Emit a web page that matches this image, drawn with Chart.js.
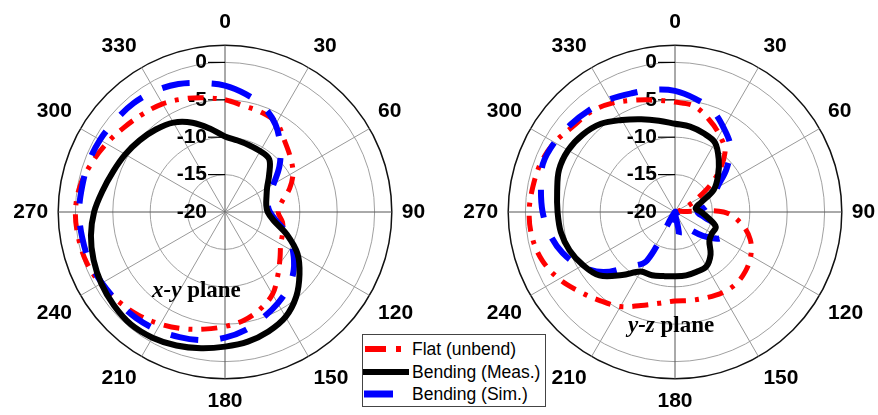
<!DOCTYPE html>
<html>
<head>
<meta charset="utf-8">
<script src="https://cdn.jsdelivr.net/npm/chart.js@4.4.0/dist/chart.umd.min.js"></script>
<style>
body { margin:0; width:878px; height:415px; overflow:hidden; position:relative; background:#fff; font-family:"Liberation Sans", Arial, sans-serif; }
canvas { position:absolute; top:0; }
.plane { position:absolute; font-family:"Liberation Serif","Times New Roman",serif; font-weight:bold; font-size:23px; white-space:nowrap; }
#legend { position:absolute; left:362px; top:334px; width:182px; height:71px; border:1px solid #444; background:#fff; }
.row { position:absolute; left:0; height:22px; font-size:17.5px; line-height:22px; white-space:nowrap; display:flex; align-items:center; }
.row svg { margin-right:3px; }
</style>
</head>
<body>
<canvas id="xyChart" width="440" height="415" style="left:0"></canvas>
<canvas id="yzChart" width="440" height="415" style="left:450px"></canvas>
<div class="plane" style="left:152px;top:277px"><i>x-y</i> plane</div>
<div class="plane" style="left:628px;top:312px"><i>y-z</i> plane</div>
<div id="legend"></div>
<script>
// angle (deg) for each sample, 0 at top, clockwise
var angles = [0, 10, 20, 30, 40, 50, 60, 70, 80, 90, 100, 110, 120, 130, 140, 150, 160, 170,
              180, 190, 200, 210, 220, 230, 240, 250, 260, 270, 280, 290, 300, 310, 320, 330, 340, 350];
var rTicks = [-20, -15, -10, -5, 0];
var seriesNames = ["Flat (unbend)", "Bending (Meas.)", "Bending (Sim.)"];

// x-y plane (dB)
var xyFlat = [-5.0, -5.6, -5.8, -6.2, -7.6, -8.6, -9.5, -10.8, -12.3, -12.9, -12.2, -11.8, -11.4, -10.4, -9.0, -7.3, -6.2, -5.3,
              -4.7, -4.1, -3.4, -2.7, -2.0, -1.4, -0.8, -0.3, -0.1, 0.0, -0.3, -1.0, -1.7, -2.4, -2.9, -3.3, -3.9, -4.5];
var xyMeas = [-9.9, -10.3, -10.5, -10.6, -10.8, -12.3, -13.5, -14.1, -14.4, -14.3, -13.4, -11.2, -8.8, -7.0, -5.2, -3.8, -3.0, -2.4,
              -2.0, -1.5, -1.0, -0.6, -0.4, -0.6, -0.9, -1.3, -1.8, -2.5, -3.4, -4.1, -4.6, -5.1, -5.6, -6.2, -7.3, -8.7];
var xySim  = [-3.1, -4.0, -5.0, -6.5, -8.5, -10.5, -12.5, -13.8, -14.2, -14.0, -13.0, -11.0, -9.5, -8.0, -6.8, -5.9, -5.0, -4.0,
              -3.2, -2.6, -2.2, -1.8, -1.5, -1.3, -1.0, -0.7, -0.6, -0.5, -0.6, -0.6, -0.7, -0.9, -1.0, -1.3, -1.8, -2.5];

// y-z plane (dB)
var yzFlat = [-5.3, -5.6, -6.8, -8.1, -9.6, -13.0, -16.8, -19.0, -19.5, -13.5, -11.0, -9.3, -8.3, -7.7, -7.4, -7.5, -7.8, -8.0,
              -8.1, -7.6, -6.7, -5.4, -4.5, -3.4, -2.1, -1.1, -0.6, -0.5, -0.7, -0.9, -1.4, -2.2, -2.5, -3.2, -4.1, -4.8];
var yzMeas = [-8.2, -8.4, -8.8, -9.3, -10.9, -12.5, -14.0, -16.3, -17.2, -16.5, -15.5, -14.2, -14.3, -14.0, -12.6, -11.6, -11.5, -11.4,
              -11.4, -11.3, -11.0, -10.8, -9.0, -6.8, -5.8, -5.0, -4.5, -4.3, -4.0, -3.5, -3.5, -3.9, -4.6, -5.8, -6.8, -7.6];
var yzSim  = [-3.8, -4.6, -5.5, -7.0, -8.5, -11.0, -13.5, -14.5, -15.8, -17.0, -16.0, -13.5, -13.0, -15.0, -17.0, -18.5, -20.0, -17.0,
              -16.5, -17.5, -20.0, -12.5, -10.5, -7.5, -5.5, -4.0, -3.0, -2.3, -1.8, -1.2, -1.4, -1.8, -2.2, -2.6, -3.1, -3.4];

var lineColors = ["#ff0000", "#000000", "#0000ff"];
var lineWidths = [5, 6, 6];
var lineDashes = [[16, 9, 4, 9], [], [28, 22]];
var drawOrder = [2, 0, 1];
var rMax = 2.3;
var fontFamily = '"Liberation Sans", Arial, sans-serif';

// radial tick labels sit left of the 0 deg axis, with a small tick mark
var tickLabels = {
    id: 'tickLabels',
    beforeDatasetsDraw: function (chart) {
        var s = chart.scales.r;
        var ctx = chart.ctx;
        ctx.save();
        ctx.font = 'bold 21px ' + fontFamily;
        ctx.fillStyle = '#000';
        ctx.strokeStyle = '#000';
        ctx.lineWidth = 1.2;
        ctx.textAlign = 'right';
        ctx.textBaseline = 'middle';
        for (var i = 0; i < rTicks.length; i++) {
            var y = s.yCenter - s.getDistanceFromCenterForValue(rTicks[i]);
            ctx.fillText(String(rTicks[i]), s.xCenter - 18, y);
            if (i > 0) {
                ctx.beginPath();
                ctx.moveTo(s.xCenter - 17, y);
                ctx.lineTo(s.xCenter, y);
                ctx.stroke();
            }
        }
        ctx.restore();
    }
};

function makePolar(id, series) {
    var datasets = [];
    for (var i = 0; i < series.length; i++) {
        datasets.push({
            label: seriesNames[i],
            data: series[i],
            borderColor: lineColors[i],
            borderWidth: lineWidths[i],
            borderDash: lineDashes[i],
            backgroundColor: 'transparent',
            fill: false,
            pointRadius: 0,
            tension: 0.35,
            order: drawOrder[i]
        });
    }
    new Chart(document.getElementById(id), {
        type: 'radar',
        data: { labels: angles.map(String), datasets: datasets },
        options: {
            responsive: false,
            animation: false,
            layout: { padding: { top: 10 } },
            plugins: { legend: { display: false }, tooltip: { enabled: false } },
            scales: {
                r: {
                    min: rTicks[0],
                    max: rMax,
                    afterBuildTicks: function (scale) {
                        scale.ticks = rTicks.concat([rMax]).map(function (v) { return { value: v }; });
                    },
                    ticks: { display: false },
                    grid: {
                        circular: true,
                        color: function (c) { return c.tick && c.tick.value > 0 ? '#111' : '#a0a0a0'; },
                        lineWidth: function (c) { return c.tick && c.tick.value > 0 ? 1.5 : 1; }
                    },
                    angleLines: {
                        color: function (c) { return c.index % 3 ? 'transparent' : (c.index % 9 ? '#999' : '#555'); },
                        lineWidth: 1
                    },
                    pointLabels: {
                        padding: 10,
                        color: '#000',
                        font: { family: fontFamily, size: 21, weight: 'bold' },
                        callback: function (label, index) { return index % 3 ? '' : label; }
                    }
                }
            }
        },
        plugins: [tickLabels]
    });
}

makePolar('xyChart', [xyFlat, xyMeas, xySim]);
makePolar('yzChart', [yzFlat, yzMeas, yzSim]);

// legend
var legendSvg = [
    '<svg width="46" height="22"><line x1="2" y1="11" x2="44" y2="11" stroke="#ff0000" stroke-width="6" stroke-dasharray="21 10 5 20"/></svg>',
    '<svg width="46" height="22"><line x1="0" y1="11" x2="46" y2="11" stroke="#000" stroke-width="6"/></svg>',
    '<svg width="46" height="22"><line x1="1" y1="11" x2="44" y2="11" stroke="#0000ff" stroke-width="7" stroke-dasharray="29 20"/></svg>'
];
var legend = document.getElementById('legend');
for (var k = 0; k < seriesNames.length; k++) {
    var row = document.createElement('div');
    row.className = 'row';
    row.style.top = (3 + k * 22.5) + 'px';
    row.innerHTML = legendSvg[k] + '<span>' + seriesNames[k] + '</span>';
    legend.appendChild(row);
}
</script>
</body>
</html>
